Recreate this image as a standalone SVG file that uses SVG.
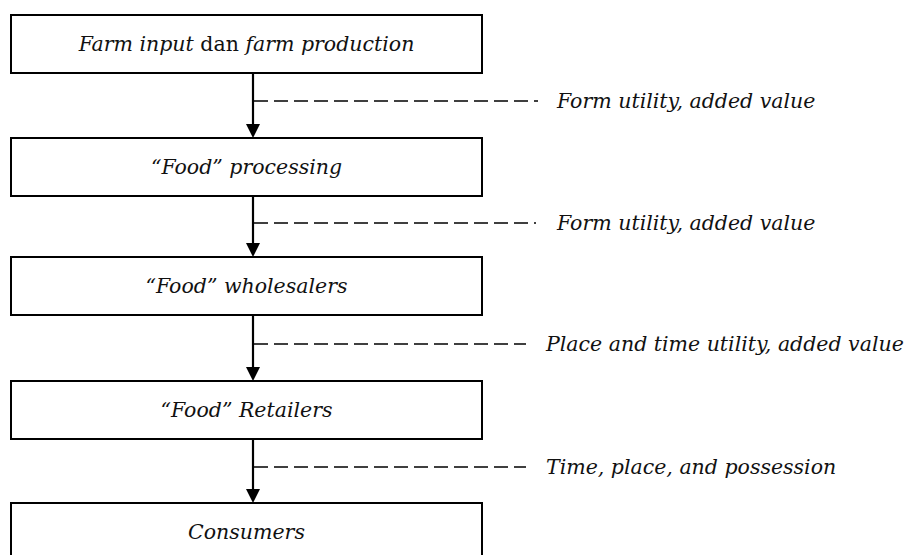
<svg xmlns="http://www.w3.org/2000/svg" width="913" height="555" viewBox="0 0 913 555">
  <style>
    .box { fill: #fff; stroke: #000; stroke-width: 2; }
    .lbl { font-family: "DejaVu Serif", "Liberation Serif", serif; font-style: italic; font-size: 20.5px; fill: #111; }
    .up { font-style: normal; }
    .flow { stroke: #000; stroke-width: 2.2; fill: none; }
    .dash { stroke: #000; stroke-width: 1.6; stroke-dasharray: 14 6; fill: none; }
    .head { fill: #000; }
  </style>
  <rect width="913" height="555" fill="#fff"/>

  <g id="connectors">
    <line class="flow" x1="253" y1="73" x2="253" y2="126"/>
    <polygon class="head" points="246,124 260,124 253,138"/>
    <line class="dash" x1="254" y1="101" x2="538" y2="101"/>

    <line class="flow" x1="253" y1="196" x2="253" y2="245"/>
    <polygon class="head" points="246,243 260,243 253,257"/>
    <line class="dash" x1="254" y1="223" x2="536" y2="223"/>

    <line class="flow" x1="253" y1="315" x2="253" y2="369"/>
    <polygon class="head" points="246,367 260,367 253,381"/>
    <line class="dash" x1="254" y1="344" x2="526" y2="344"/>

    <line class="flow" x1="253" y1="439" x2="253" y2="491"/>
    <polygon class="head" points="246,489 260,489 253,503"/>
    <line class="dash" x1="254" y1="467" x2="526" y2="467"/>
  </g>

  <g id="farm">
    <rect class="box" x="11" y="15" width="471" height="58"/>
    <text class="lbl" x="246.5" y="51" text-anchor="middle">Farm input <tspan class="up">dan</tspan> farm production</text>
  </g>
  <g id="processing">
    <rect class="box" x="11" y="138" width="471" height="58"/>
    <text class="lbl" x="246.5" y="174" text-anchor="middle">“Food” processing</text>
  </g>
  <g id="wholesalers">
    <rect class="box" x="11" y="257" width="471" height="58"/>
    <text class="lbl" x="246.5" y="293" text-anchor="middle">“Food” wholesalers</text>
  </g>
  <g id="retailers">
    <rect class="box" x="11" y="381" width="471" height="58"/>
    <text class="lbl" x="246.5" y="417" text-anchor="middle">“Food” Retailers</text>
  </g>
  <g id="consumers">
    <rect class="box" x="11" y="503" width="471" height="70"/>
    <text class="lbl" x="246.5" y="539" text-anchor="middle">Consumers</text>
  </g>

  <g id="notes">
    <text class="lbl" x="557" y="108">Form utility, added value</text>
    <text class="lbl" x="557" y="230">Form utility, added value</text>
    <text class="lbl" x="546" y="351">Place and time utility, added value</text>
    <text class="lbl" x="546" y="474">Time, place, and possession</text>
  </g>
</svg>
